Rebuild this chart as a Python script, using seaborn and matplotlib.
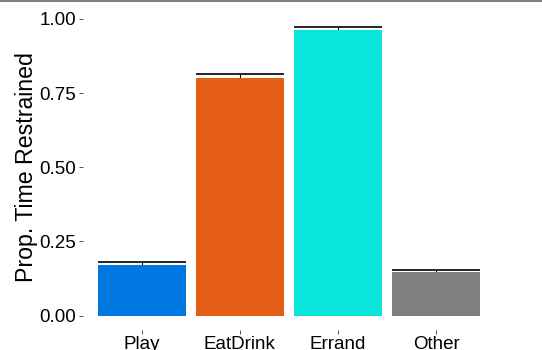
import matplotlib
matplotlib.use("Agg")
import matplotlib.pyplot as plt
import seaborn as sns
import pandas as pd
from matplotlib.lines import Line2D

# Proportion of time restrained by activity type
activities = ["Play", "EatDrink", "Errand", "Other"]
prop_restrained = [0.170, 0.801, 0.963, 0.147]
std_err = [0.009, 0.014, 0.010, 0.008]
bar_colors = ["#0078E1", "#E55C17", "#0AE6DC", "#808080"]
y_ticks = [0.00, 0.25, 0.50, 0.75, 1.00]

sns.set_theme(style="white")
plt.rcParams["font.family"] = ["Liberation Sans", "DejaVu Sans"]

df = pd.DataFrame({"activity": activities, "prop": prop_restrained, "se": std_err})

fig = plt.figure(figsize=(5.42, 3.5), dpi=100)
ax = fig.add_axes([0.153, 0.057, 0.760, 0.906])

bar_width = 0.9
sns.barplot(data=df, x="activity", y="prop", hue="activity", palette=bar_colors,
            order=activities, width=bar_width, errorbar=None, legend=False,
            saturation=1, ax=ax, zorder=3, linewidth=0)

ax.set_xlim(-0.6, 3.6)
ax.set_ylim(-0.0487, 1.02)

# error bars sit behind the bars, so only the upper half shows
fig.canvas.draw()
px_per_unit = ax.transData.transform((1, 0))[0] - ax.transData.transform((0, 0))[0]
cap_pts = bar_width * px_per_unit / 2 * 72 / fig.dpi
ax.errorbar(range(len(activities)), df["prop"], yerr=df["se"], fmt="none",
            ecolor="black", elinewidth=0.8, capsize=cap_pts, capthick=1.2, zorder=2)

ax.set_yticks(y_ticks)
ax.set_yticklabels([f"{v:.2f}" for v in y_ticks])
ax.set_xlabel("")
ax.set_ylabel("Prop. Time Restrained", fontsize=16.7, color="black")
ax.yaxis.set_label_coords(-0.11, 0.515)

ax.tick_params(axis="both", which="major", length=3, width=0.6, color="#333333",
               labelsize=13.5, labelcolor="black", pad=2, bottom=True, left=True)
ax.tick_params(axis="x", pad=1.5)
for s in ax.spines.values():
    s.set_visible(False)
ax.grid(False)

# thin rule across the top edge
fig.add_artist(Line2D([0, 1], [0.998, 0.998], transform=fig.transFigure,
                      color="#808080", linewidth=1.5))

fig.savefig("out.png", dpi=100)
